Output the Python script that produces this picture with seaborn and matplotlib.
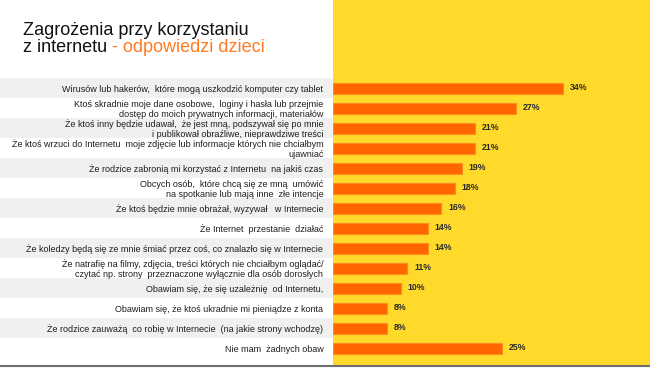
import pandas as pd
import matplotlib
matplotlib.use("Agg")
import matplotlib.pyplot as plt
import seaborn as sns
from matplotlib.patches import Rectangle

# Chart data
categories = [
    "Wirusów lub hakerów,  które mogą uszkodzić komputer czy tablet",
    "Ktoś skradnie moje dane osobowe,  loginy i hasła lub przejmie\ndostęp do moich prywatnych informacji, materiałów",
    "Że ktoś inny będzie udawał,  że jest mną, podszywał się po mnie\ni publikował obraźliwe, nieprawdziwe treści",
    "Że ktoś wrzuci do Internetu  moje zdjęcie lub informacje których nie chciałbym\nujawniać",
    "Że rodzice zabronią mi korzystać z Internetu  na jakiś czas",
    "Obcych osób,  które chcą się ze mną  umówić\nna spotkanie lub mają inne  złe intencje",
    "Że ktoś będzie mnie obrażał, wyzywał   w Internecie",
    "Że Internet  przestanie  działać",
    "Że koledzy będą się ze mnie śmiać przez coś, co znalazło się w Internecie",
    "Że natrafię na filmy, zdjęcia, treści których nie chciałbym oglądać/\nczytać np. strony  przeznaczone wyłącznie dla osób dorosłych",
    "Obawiam się, że się uzależnię  od Internetu,",
    "Obawiam się, że ktoś ukradnie mi pieniądze z konta",
    "Że rodzice zauważą  co robię w Internecie  (na jakie strony wchodzę)",
    "Nie mam  żadnych obaw",
]
values = [34, 27, 21, 21, 19, 18, 16, 14, 14, 11, 10, 8, 8, 25]

title_line1 = "Zagrożenia przy korzystaniu"
title_line2_black = "z internetu"
title_line2_orange = " - odpowiedzi dzieci"

df = pd.DataFrame({"zagrozenie": categories, "procent": values})

sns.set_theme(style="white")
plt.rcParams["font.family"] = ["Liberation Sans", "DejaVu Sans"]

W, H = 650, 368
fig = plt.figure(figsize=(6.5, 3.68), dpi=100)
fig.patch.set_facecolor("white")

# yellow panel on the right and grey rule at the bottom
fig.patches.append(Rectangle((333 / W, 3 / H), 1 - 333 / W, 1 - 3 / H,
                             transform=fig.transFigure, facecolor="#ffda2a",
                             edgecolor="none", zorder=-10))
fig.lines.append(plt.Line2D([0, 1], [2 / H, 2 / H], transform=fig.transFigure,
                            color="#6e6e6e", linewidth=1.5, zorder=-5))

n = len(categories)
top, row_h = 78, 20
ax_h = n * row_h
rect_bottom = (H - top - ax_h) / H

# left panel with alternating row bands
ax_bg = fig.add_axes([0, rect_bottom, 333 / W, ax_h / H])
for i in range(n):
    if i % 2 == 0:
        ax_bg.axhspan(i - 0.5, i + 0.5, color="#f0f0f0", lw=0)
ax_bg.set_ylim(n - 0.5, -0.5)
ax_bg.set_xlim(0, 1)
ax_bg.axis("off")

# bar chart
ax = fig.add_axes([333 / W, rect_bottom, 1 - 333 / W, ax_h / H])
ax.patch.set_alpha(0)
sns.barplot(data=df, x="procent", y="zagrozenie", ax=ax, color="#ff6600",
            orient="h", width=0.55, saturation=1, edgecolor="#ff8a1e", linewidth=0.8)
ax.set_xlim(0, 317 / (230 / 34))
ax.set_ylim(n - 0.5, -0.5)
ax.bar_label(ax.containers[0], fmt="%d%%", padding=5, fontsize=6.3,
             fontweight="bold", color="#2b2b2b")

ax.set_xlabel("")
ax.set_ylabel("")
ax.set_xticks([])
ax.tick_params(axis="y", length=0, pad=7, labelsize=6.45, labelcolor="#1e1e1e")
for lbl in ax.get_yticklabels():
    lbl.set_linespacing(1.12)
for s in ax.spines.values():
    s.set_visible(False)

# title
fig.text(23 / W, 1 - 35 / H, title_line1, fontsize=13, color="#111111", va="baseline")
t2 = fig.text(23 / W, 1 - 52 / H, title_line2_black, fontsize=13, color="#111111", va="baseline")
t3 = fig.text(0, 1 - 52 / H, title_line2_orange, fontsize=13, color="#ff7a21", va="baseline")
fig.canvas.draw()
bb = t2.get_window_extent()
t3.set_position((bb.x1 / W, 1 - 52 / H))

fig.savefig("out.png", dpi=100)
